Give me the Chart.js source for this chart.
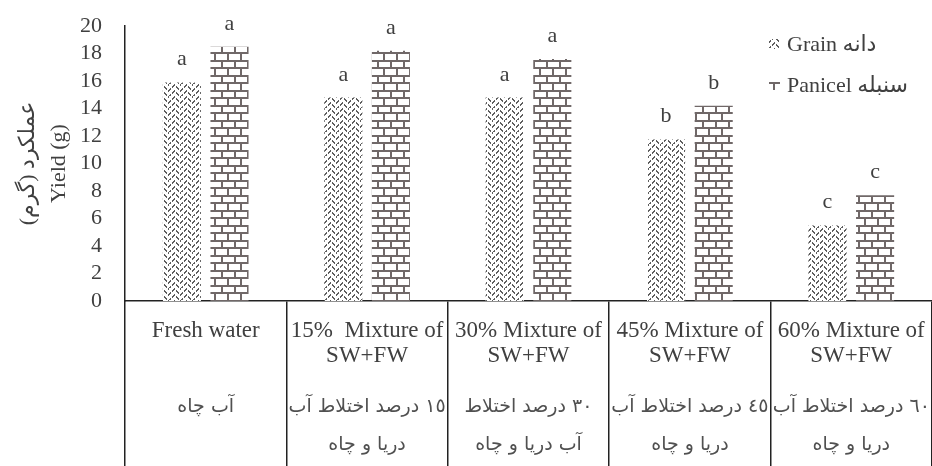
<!DOCTYPE html>
<html>
<head>
<meta charset="utf-8">
<script src="https://cdn.jsdelivr.net/npm/chart.js@4.4.1/dist/chart.umd.min.js"></script>
<style>
  html, body { margin: 0; padding: 0; background: #fff; }
  #wrap { width: 932px; height: 466px; }
</style>
</head>
<body>
<div id="wrap"><canvas id="yieldChart"></canvas></div>
<script>
// Yield data (g)
const categories = [
    ['Fresh water', ''],
    ['15%  Mixture of', 'SW+FW'],
    ['30% Mixture of', 'SW+FW'],
    ['45% Mixture of', 'SW+FW'],
    ['60% Mixture of', 'SW+FW']
];
const categoriesFa = [
    ['آب چاه', ''],
    ['١٥ درصد اختلاط آب', 'دریا و چاه'],
    ['٣٠ درصد اختلاط', 'آب دریا و چاه'],
    ['٤٥ درصد اختلاط آب', 'دریا و چاه'],
    ['٦٠ درصد اختلاط آب', 'دریا و چاه']
];
const grainValues = [15.9, 14.8, 14.8, 11.75, 5.5];
const panicleValues = [18.5, 18.2, 17.6, 14.2, 7.7];
const grainLetters = ['a', 'a', 'a', 'b', 'c'];
const panicleLetters = ['a', 'a', 'a', 'b', 'c'];
const seriesNames = ['Grain دانه', 'Panicel سنبله'];
const yTicks = [0, 2, 4, 6, 8, 10, 12, 14, 16, 18, 20];

const serif = "'Liberation Serif', 'DejaVu Serif', 'DejaVu Sans', serif";
const textColor = '#404040';

// herringbone-ish dotted fill for grain
function grainPattern() {
    const c = document.createElement('canvas');
    c.width = 12; c.height = 12;
    const g = c.getContext('2d');
    g.fillStyle = '#fff';
    g.fillRect(0, 0, 12, 12);
    g.fillStyle = '#5e5e5e';
    for (let x = 0; x < 12; x++) {
        if (x % 4 === 3) continue;
        const y = Math.abs(x - 6);
        g.fillRect(x, y, 1, 2);
        g.fillRect(x, (y + 6) % 12, 1, 2);
    }
    return g.createPattern(c, 'repeat');
}

// brick fill for panicle
function brickPattern() {
    const c = document.createElement('canvas');
    c.width = 26; c.height = 15;
    const g = c.getContext('2d');
    g.fillStyle = '#fff';
    g.fillRect(0, 0, 26, 15);
    g.fillStyle = '#706868';
    g.fillRect(0, 0, 26, 2);
    g.fillRect(0, 7, 26, 2);
    g.fillRect(0, 0, 2, 7);
    g.fillRect(13, 0, 2, 7);
    g.fillRect(6, 7, 2, 8);
    g.fillRect(19, 7, 2, 8);
    return g.createPattern(c, 'repeat');
}

const grainFill = grainPattern();
const panicleFill = brickPattern();

// letters over bars + legend inside plot
const annotate = {
    id: 'annotate',
    afterDatasetsDraw(chart) {
        const ctx = chart.ctx;
        const letters = [grainLetters, panicleLetters];
        ctx.save();
        ctx.font = '22px ' + serif;
        ctx.fillStyle = textColor;
        ctx.textAlign = 'center';
        ctx.textBaseline = 'alphabetic';
        chart.data.datasets.forEach((ds, i) => {
            chart.getDatasetMeta(i).data.forEach((bar, j) => {
                ctx.fillText(letters[i][j], bar.x, bar.y - 17);
            });
        });

        // legend
        const lx = chart.chartArea.right - 163;
        const rows = [45, 86];
        ctx.textAlign = 'left';
        ctx.textBaseline = 'middle';
        ctx.font = '22px ' + serif;
        chart.data.datasets.forEach((ds, i) => {
            ctx.fillStyle = ds.backgroundColor;
            ctx.fillRect(lx, rows[i] - 6, 11, 10);
            ctx.fillStyle = textColor;
            ctx.fillText(ds.label, lx + 18, rows[i]);
        });
        ctx.restore();
    }
};

new Chart(document.getElementById('yieldChart'), {
    type: 'bar',
    data: {
        labels: categories,
        datasets: [{
            label: seriesNames[0],
            data: grainValues,
            backgroundColor: grainFill,
            borderWidth: 0,
            categoryPercentage: 0.59,
            barPercentage: 0.8
        }, {
            label: seriesNames[1],
            data: panicleValues,
            backgroundColor: panicleFill,
            borderWidth: 0,
            categoryPercentage: 0.59,
            barPercentage: 0.8
        }]
    },
    plugins: [annotate],
    options: {
        responsive: true,
        maintainAspectRatio: false,
        animation: false,
        layout: { padding: { top: 25, left: 0, right: 0, bottom: 0 } },
        plugins: {
            legend: { display: false },
            tooltip: { enabled: false }
        },
        scales: {
            x: {
                grid: {
                    offset: true,
                    drawOnChartArea: false,
                    drawTicks: true,
                    tickLength: 165,
                    color: '#222',
                    lineWidth: 1.5
                },
                border: { display: true, color: '#222', width: 1.5 },
                ticks: {
                    autoSkip: false,
                    maxRotation: 0,
                    minRotation: 0,
                    padding: -148,
                    color: textColor,
                    font: { size: 23, family: serif, lineHeight: '25px' }
                },
                afterFit(scale) {
                    scale.height = 165;
                    scale.paddingLeft = 0;
                    scale.paddingRight = 0;
                }
            },
            // Persian lines of each category label (mirrored so they are not clipped)
            x2: {
                type: 'category',
                labels: categoriesFa,
                offset: true,
                position: 'bottom',
                weight: 1,
                grid: { display: false, drawTicks: false },
                border: { display: false },
                ticks: {
                    mirror: true,
                    autoSkip: false,
                    maxRotation: 0,
                    minRotation: 0,
                    padding: 40,
                    color: '#505050',
                    font: { size: 19, family: "'DejaVu Sans', sans-serif", lineHeight: '38px' }
                },
                afterFit(scale) {
                    scale.height = 0;
                    scale.paddingLeft = 0;
                    scale.paddingRight = 0;
                }
            },
            y: {
                min: 0,
                max: 20,
                afterBuildTicks(scale) { scale.ticks = yTicks.map(v => ({ value: v })); },
                grid: { display: false },
                border: { display: true, color: '#222', width: 1.5 },
                ticks: {
                    autoSkip: false,
                    padding: 15,
                    color: textColor,
                    font: { size: 22, family: serif, lineHeight: 1 }
                },
                title: {
                    display: true,
                    text: ['عملکرد (گرم)\u200F', 'Yield (g)'],
                    color: textColor,
                    font: { size: 22, family: serif, lineHeight: '31px' },
                    padding: { top: 13, bottom: 0 }
                },
                afterFit(scale) { scale.width = 125; }
            }
        }
    }
});
</script>
</body>
</html>
